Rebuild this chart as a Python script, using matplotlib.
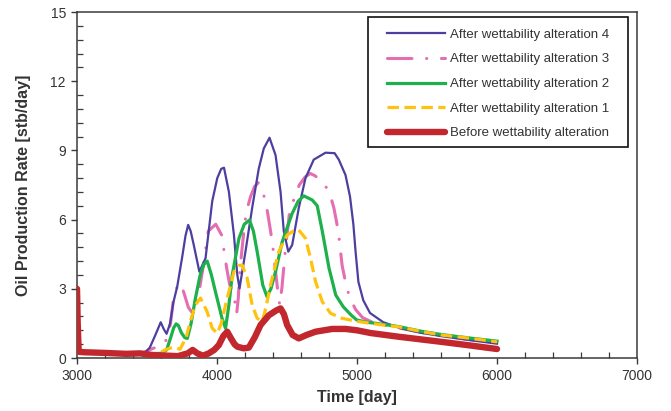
#!/usr/bin/env python3
"""Oil production rate before and after successive wettability alterations."""

import matplotlib

matplotlib.use("Agg")
import matplotlib.pyplot as plt
from matplotlib.patches import Rectangle
from matplotlib.ticker import MultipleLocator

plt.rcParams["font.family"] = ["Liberation Sans", "DejaVu Sans"]

# time [day] / rate [stb/day]
T_ALT4 = [3000, 3200, 3400, 3480, 3520, 3560, 3598, 3620, 3640, 3665, 3688, 3716, 3752, 3775,
          3794, 3812, 3834, 3874, 3918, 3966, 4002, 4030, 4050, 4085, 4121, 4145, 4161, 4203,
          4251, 4298, 4334, 4375, 4418, 4454, 4477, 4509, 4537, 4584, 4632, 4691, 4775, 4840,
          4870, 4918, 4950, 4974, 4990, 5010, 5045, 5093, 5188, 5307, 5450, 5600, 5800, 6000]
Q_ALT4 = [0.25, 0.2, 0.18, 0.2, 0.45, 1.0, 1.55, 1.25, 1.05, 1.5, 2.4, 3.1, 4.4, 5.3,
          5.77, 5.5, 4.9, 3.74, 4.32, 6.8, 7.8, 8.2, 8.25, 7.2, 5.33, 3.6, 3.02, 4.6,
          6.5, 8.2, 9.08, 9.55, 8.8, 7.2, 5.5, 4.61, 4.9, 6.5, 7.8, 8.6, 8.9, 8.88,
          8.6, 7.93, 7.0, 5.8, 4.6, 3.3, 2.5, 1.95, 1.55, 1.3, 1.1, 0.95, 0.78, 0.62]

T_ALT3 = [3000, 3200, 3450, 3548, 3600, 3640, 3668, 3690, 3716, 3740, 3765, 3795, 3830, 3865,
          3902, 3938, 3991, 4033, 4069, 4090, 4121, 4140, 4152, 4165, 4185, 4208, 4240, 4268,
          4295, 4320, 4342, 4360, 4380, 4396, 4410, 4421, 4436, 4448, 4464, 4490, 4516, 4550,
          4588, 4630, 4666, 4700, 4741, 4780, 4812, 4835, 4854, 4870, 4894, 4918, 4945, 4990,
          5040, 5100, 5200, 5300, 5450, 5600, 5800, 6000]
Q_ALT3 = [0.25, 0.2, 0.18, 0.43, 0.5, 0.8, 1.5, 2.6, 3.1, 3.25, 2.8, 2.2, 1.9, 2.6,
          4.0, 5.5, 5.8, 5.33, 3.9, 3.2, 2.73, 1.9, 2.6, 3.9, 5.1, 6.3, 7.0, 7.43,
          7.6, 7.3, 6.9, 6.35, 5.6, 4.97, 4.2, 3.6, 2.8, 2.3, 3.06, 4.8, 6.2, 6.9,
          7.5, 7.85, 8.0, 7.9, 7.7, 7.4, 7.0, 6.5, 5.9, 5.3, 4.0, 3.3, 2.66, 2.1,
          1.75, 1.58, 1.42, 1.3, 1.12, 0.97, 0.8, 0.64]

T_ALT2 = [3000, 3200, 3450, 3600, 3640, 3670, 3690, 3708, 3725, 3745, 3770, 3788, 3815, 3846,
          3880, 3905, 3930, 3960, 3989, 4036, 4061, 4085, 4109, 4157, 4195, 4232, 4260, 4287,
          4327, 4357, 4385, 4418, 4466, 4537, 4580, 4620, 4680, 4716, 4752, 4800, 4848, 4902,
          4960, 4998, 5070, 5140, 5300, 5450, 5600, 5800, 6000]
Q_ALT2 = [0.25, 0.2, 0.18, 0.2, 0.35, 0.9, 1.3, 1.48, 1.4, 1.1, 0.88, 0.85, 1.5, 2.6,
          3.6, 4.05, 4.2, 3.6, 2.87, 1.72, 1.29, 2.3, 3.6, 5.19, 5.8, 5.98, 5.5, 4.61,
          3.16, 2.66, 3.0, 3.74, 5.04, 6.27, 6.8, 7.03, 6.85, 6.6, 5.5, 3.9, 2.73, 2.22,
          1.85, 1.65, 1.55, 1.5, 1.36, 1.17, 1.02, 0.87, 0.73]

T_ALT1 = [3000, 3200, 3450, 3580, 3630, 3664, 3700, 3736, 3780, 3810, 3846, 3882, 3930, 3966,
          4002, 4030, 4061, 4121, 4150, 4180, 4216, 4251, 4287, 4323, 4350, 4382, 4441, 4501,
          4545, 4584, 4632, 4668, 4704, 4752, 4811, 4894, 4990, 5100, 5200, 5300, 5450, 5600,
          5800, 6000]
Q_ALT1 = [0.25, 0.2, 0.18, 0.2, 0.35, 0.43, 0.45, 0.38, 0.9, 1.6, 2.3, 2.6, 2.0, 1.29,
          1.07, 1.5, 2.3, 3.74, 4.0, 4.03, 3.45, 2.3, 1.72, 1.58, 2.2, 3.16, 4.61, 5.33,
          5.5, 5.55, 5.19, 4.32, 3.31, 2.44, 1.94, 1.72, 1.6, 1.5, 1.42, 1.35, 1.16, 1.0,
          0.86, 0.70]

T_BEFORE = [3000, 3005, 3012, 3050, 3200, 3350, 3450, 3550, 3650, 3720, 3790, 3826, 3860, 3900,
            3941, 3980, 4013, 4045, 4073, 4100, 4125, 4145, 4190, 4227, 4270, 4311, 4370, 4420,
            4454, 4478, 4501, 4540, 4584, 4640, 4704, 4823, 4918, 5000, 5100, 5300, 5590, 5800,
            6000]
Q_BEFORE = [3.0, 1.5, 0.27, 0.25, 0.22, 0.18, 0.2, 0.12, 0.1, 0.08, 0.2, 0.35, 0.2, 0.1,
            0.2, 0.35, 0.56, 0.95, 1.14, 0.85, 0.6, 0.49, 0.42, 0.45, 0.9, 1.43, 1.85, 2.05,
            2.15, 1.9, 1.43, 1.0, 0.85, 1.0, 1.14, 1.26, 1.26, 1.2, 1.08, 0.92, 0.71, 0.55,
            0.39]

LABELS = [
    "After wettability alteration 4",
    "After wettability alteration 3",
    "After wettability alteration 2",
    "After wettability alteration 1",
    "Before wettability alteration",
]

STYLES = [
    dict(color="#4B3F9F", lw=1.6, zorder=3),
    dict(color="#E56DB1", lw=2.2, zorder=2, ls=(0, (8.0, 4.8, 0.05, 4.8)), dash_capstyle="round"),
    dict(color="#1DB04B", lw=2.3, zorder=4),
    dict(color="#FFC20E", lw=2.3, zorder=5, ls=(0, (3.6, 1.7))),
    dict(color="#C1272D", lw=4.6, zorder=6, solid_capstyle="round", solid_joinstyle="round"),
]

INK = "#333333"


def main():
    series = [(T_ALT4, Q_ALT4), (T_ALT3, Q_ALT3), (T_ALT2, Q_ALT2), (T_ALT1, Q_ALT1), (T_BEFORE, Q_BEFORE)]
    fig = plt.figure(figsize=(6.71, 4.11), dpi=100, facecolor="white")
    ax = fig.add_axes([77 / 671, 53 / 411, 560 / 671, 346 / 411])

    for (t, q), label, style in zip(series, LABELS, STYLES):
        ax.plot(t, q, label=label, **style)

    ax.set_xlim(3000, 7000)
    ax.set_ylim(0, 15)
    ax.xaxis.set_major_locator(MultipleLocator(1000))
    ax.xaxis.set_minor_locator(MultipleLocator(200))
    ax.yaxis.set_major_locator(MultipleLocator(3))
    ax.yaxis.set_minor_locator(MultipleLocator(0.6))
    ax.tick_params(which="major", direction="out", length=4, width=1.0, colors="#3a3a3a",
                   labelsize=10, labelcolor=INK, pad=4)
    ax.tick_params(which="minor", direction="in", length=4, width=0.9, colors="#3a3a3a")
    for spine in ax.spines.values():
        spine.set_color("#3a3a3a")
        spine.set_linewidth(1.1)

    ax.set_xlabel("Time [day]", fontsize=11.5, fontweight="bold", color=INK, labelpad=5)
    ax.set_ylabel("Oil Production Rate [stb/day]", fontsize=11.5, fontweight="bold", color=INK, labelpad=14)

    # legend box drawn separately: wider side margins than matplotlib's single borderpad allows
    ax.add_patch(Rectangle((0.5196, 0.6098), 0.4643, 0.3757, transform=ax.transAxes,
                           facecolor="white", edgecolor="#111111", linewidth=1.2, zorder=9))
    legend = ax.legend(loc="upper left", bbox_to_anchor=(0.5536, 0.952), borderaxespad=0,
                       borderpad=0, frameon=False, fontsize=9.5, handlelength=4.4,
                       handletextpad=0.34, labelspacing=0.94)
    legend.set_zorder(10)
    for text in legend.get_texts():
        text.set_color(INK)

    fig.savefig("out.png", dpi=100, facecolor="white")
    plt.close(fig)


if __name__ == "__main__":
    main()
